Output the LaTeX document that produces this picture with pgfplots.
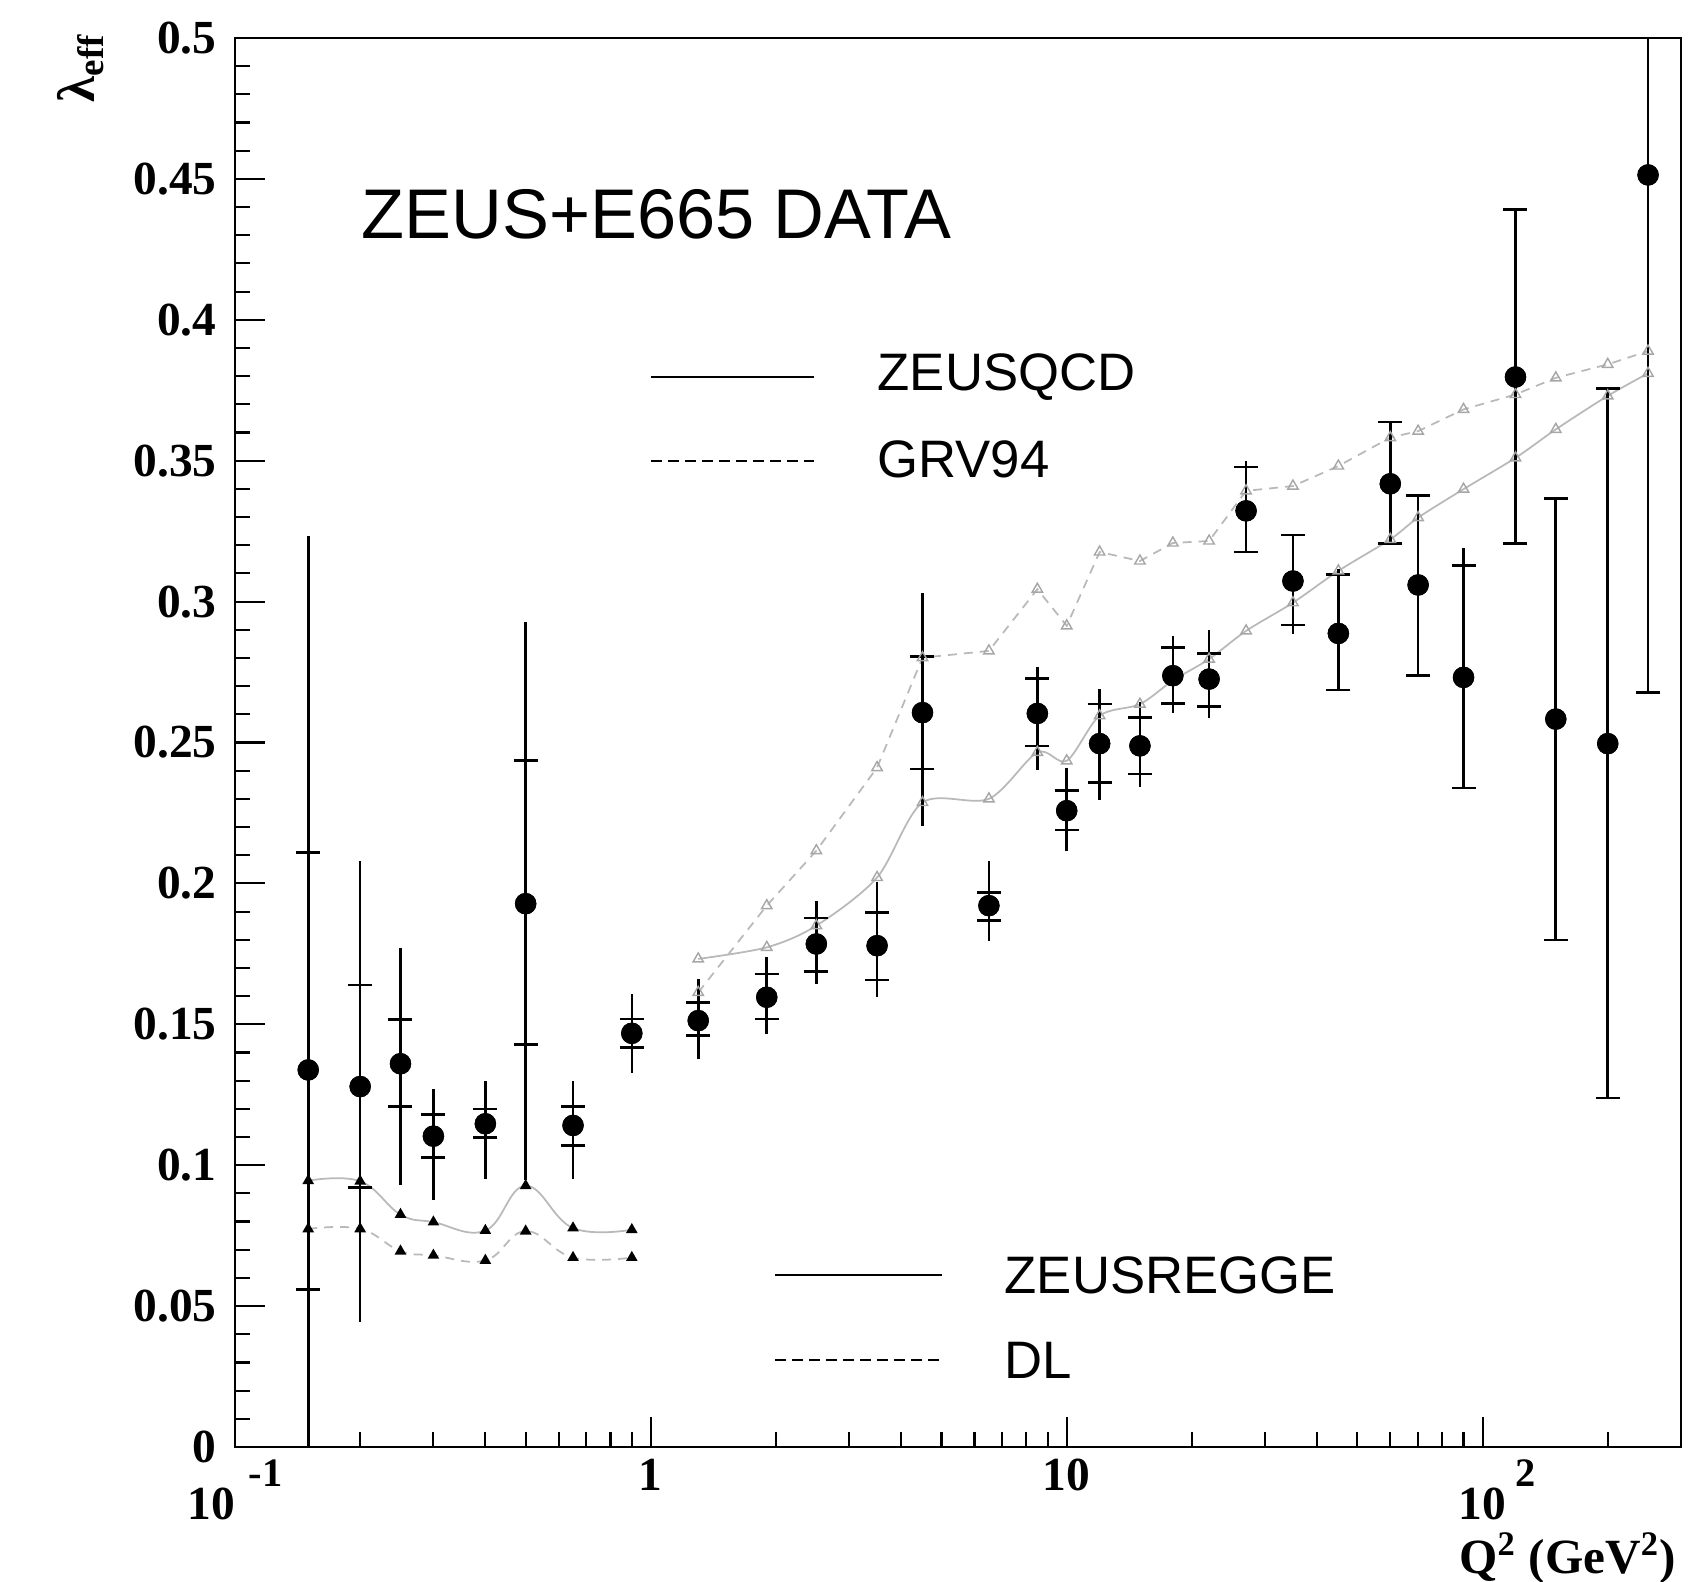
\documentclass[border=0pt]{standalone}
\usepackage{fontspec}
\setmainfont{Liberation Serif}
\newfontfamily\legfont{Liberation Sans}
\usepackage{pgfplots}
\pgfplotsset{compat=1.18}
\usepackage{pgfplotstable}

% x  y  total+  total-  stat+  stat-
\pgfplotstableread{
x y tp tm sp sm
0.15 0.1338 0.1895 0.1338 0.0771 0.0780
0.2 0.1279 0.0799 0.0836 0.0360 0.0359
0.25 0.1360 0.0410 0.0432 0.0157 0.0152
0.3 0.1103 0.0168 0.0228 0.0076 0.0075
0.4 0.1147 0.0153 0.0195 0.0052 0.0048
0.5 0.1928 0.1000 0.0982 0.0508 0.0499
0.65 0.1141 0.0159 0.0189 0.0067 0.0071
0.9 0.1468 0.0140 0.0142 0.0051 0.0050
1.3 0.1513 0.0148 0.0136 0.0065 0.0053
1.9 0.1596 0.0142 0.0130 0.0083 0.0077
2.5 0.1785 0.0154 0.0142 0.0092 0.0097
3.5 0.1779 0.0225 0.0183 0.0118 0.0122
4.5 0.2606 0.0426 0.0401 0.0199 0.0200
6.5 0.1921 0.0159 0.0124 0.0047 0.0053
8.5 0.2603 0.0165 0.0201 0.0124 0.0115
10 0.2258 0.0151 0.0142 0.0071 0.0069
12 0.2496 0.0193 0.0200 0.0140 0.0138
15 0.2488 0.0154 0.0145 0.0101 0.0100
18 0.2737 0.0141 0.0134 0.0100 0.0099
22 0.2725 0.0174 0.0138 0.0091 0.0098
27 0.3322 0.0177 0.0146 0.0156 0.0146
35 0.3073 0.0163 0.0189 0.0163 0.0156
45 0.2887 0.0228 0.0201 0.0210 0.0201
60 0.3418 0.0219 0.0211 0.0219 0.0211
70 0.3059 0.0318 0.0322 0.0318 0.0322
90 0.2731 0.0458 0.0393 0.0396 0.0393
120 0.3797 0.0594 0.0590 0.0594 0.0590
150 0.2583 0.0782 0.0784 0.0782 0.0784
200 0.2496 0.1261 0.1258 0.1261 0.1258
250 0.4514 0.1837 0.1837 0.1837 0.1837
}\datatab

\pgfplotstableread{
x y
0.15 0.0945
0.2 0.0943
0.25 0.0825
0.3 0.0798
0.4 0.0768
0.5 0.0927
0.65 0.0777
0.9 0.0771
}\reggetab

\pgfplotstableread{
x y
0.15 0.0774
0.2 0.0774
0.25 0.0695
0.3 0.0680
0.4 0.0662
0.5 0.0766
0.65 0.0672
0.9 0.0672
}\dltab

\pgfplotstableread{
x y
1.3 0.1732
1.9 0.1773
2.5 0.1850
3.5 0.2021
4.5 0.2287
6.5 0.2300
8.5 0.2465
10 0.2435
12 0.2595
15 0.2636
18 0.2720
22 0.2796
27 0.2896
35 0.2996
45 0.3109
60 0.3221
70 0.3298
90 0.3399
120 0.3510
150 0.3611
200 0.3730
250 0.3810
}\qcdtab

\pgfplotstableread{
x y
1.3 0.1613
1.9 0.1921
2.5 0.2116
3.5 0.2411
4.5 0.2801
6.5 0.2825
8.5 0.3044
10 0.2914
12 0.3176
15 0.3144
18 0.3208
22 0.3215
27 0.3393
35 0.3410
45 0.3481
60 0.3582
70 0.3605
90 0.3682
120 0.3735
150 0.3794
200 0.3842
250 0.3889
}\grvtab

\begin{document}
\begin{tikzpicture}
\begin{axis}[
  at={(0,0)}, anchor=south west,
  scale only axis, width=144.6mm, height=140.9mm,
  xmode=log, xmin=0.1, xmax=300, ymin=0, ymax=0.5,
  axis line style={line width=0.8pt},
  xtick={0.1,1,10,100},
  xticklabels={{10\hspace{0.3em}\raisebox{0.7em}{\fontsize{11.5}{12}\selectfont -1}},{1},{10},{10\rlap{\hspace{0.2em}\raisebox{0.7em}{\fontsize{11.5}{12}\selectfont 2}}}},
  minor xtick={0.2,0.3,0.4,0.5,0.6,0.7,0.8,0.9,2,3,4,5,6,7,8,9,20,30,40,50,60,70,80,90,200},
  ytick={0,0.05,0.1,0.15,0.2,0.25,0.3,0.35,0.4,0.45,0.5},
  yticklabels={0,0.05,0.1,0.15,0.2,0.25,0.3,0.35,0.4,0.45,0.5},
  minor y tick num=4,
  xtick pos=left, ytick pos=left,
  tick align=inside,
  major tick length=3mm, minor tick length=1.5mm,
  every tick/.append style={black, line width=0.6pt},
  every minor tick/.append style={black, line width=0.6pt},
  tick label style={font=\fontsize{13.5}{14}\selectfont\bfseries},
  yticklabel style={xshift=-0.6mm},
  clip=true,
]
% ZEUSREGGE (low Q2)
\addplot[gray!55, line width=0.5pt, smooth, tension=0.7,
  mark=triangle*, mark size=0.5mm, mark options={solid, draw=black, fill=black}]
  table {\reggetab};
% DL (low Q2)
\addplot[gray!55, line width=0.5pt, smooth, tension=0.7, dash pattern=on 0.9mm off 0.7mm,
  mark=triangle*, mark size=0.5mm, mark options={solid, draw=black, fill=black}]
  table {\dltab};
% ZEUSQCD
\addplot[gray!55, line width=0.5pt, smooth, tension=0.5,
  mark=triangle, mark size=0.6mm, mark options={solid, draw=gray!70, line width=0.4pt}]
  table {\qcdtab};
% GRV94
\addplot[gray!55, line width=0.5pt, dash pattern=on 0.9mm off 0.7mm,
  mark=triangle, mark size=0.6mm, mark options={solid, draw=gray!70, line width=0.4pt}]
  table {\grvtab};
% data: total errors
\addplot[black, only marks, mark=*, mark size=1.0mm,
  error bars/.cd, y dir=both, y explicit, error mark=none,
  error bar style={black, solid, line width=0.75pt}]
  table[x=x, y=y, y error plus=tp, y error minus=tm] {\datatab};
% data: statistical errors
\addplot[black, only marks, mark=*, mark size=1.0mm,
  error bars/.cd, y dir=both, y explicit,
  error mark options={rotate=90, mark size=1.2mm, line width=0.75pt, black},
  error bar style={black, solid, line width=0.75pt}]
  table[x=x, y=y, y error plus=sp, y error minus=sm] {\datatab};
\end{axis}

% annotations
\node[anchor=base west, inner sep=0, font=\legfont\fontsize{20}{20}\selectfont] at (12.6mm,120.8mm) {ZEUS+E665 DATA};
\draw[black, line width=0.8pt] (41.6mm,107.0mm) -- (57.9mm,107.0mm);
\draw[black, line width=0.8pt, dash pattern=on 1.1mm off 0.6mm] (41.6mm,98.6mm) -- (57.9mm,98.6mm);
\node[anchor=base west, inner sep=0, font=\legfont\fontsize{15}{15}\selectfont] at (64.2mm,105.6mm) {ZEUSQCD};
\node[anchor=base west, inner sep=0, font=\legfont\fontsize{15}{15}\selectfont] at (64.2mm,96.9mm) {GRV94};
\draw[black, line width=0.8pt] (54.0mm,17.2mm) -- (70.7mm,17.2mm);
\draw[black, line width=0.8pt, dash pattern=on 1.1mm off 0.6mm] (54.0mm,8.7mm) -- (70.7mm,8.7mm);
\node[anchor=base west, inner sep=0, font=\legfont\fontsize{15}{15}\selectfont] at (76.9mm,15.3mm) {ZEUSREGGE};
\node[anchor=base west, inner sep=0, font=\legfont\fontsize{15}{15}\selectfont] at (76.9mm,6.8mm) {DL};
% axis labels
\node[rotate=90, anchor=base west, inner sep=0, font=\fontsize{15}{15}\selectfont\bfseries] at (-14.0mm,134.4mm) {λ\textsubscript{eff}};
\node[anchor=base east, inner sep=0, font=\fontsize{14}{14}\selectfont\bfseries] at (144.2mm,-12.7mm) {Q\textsuperscript{2} (GeV\textsuperscript{2})};
\pgfresetboundingbox
\path[use as bounding box] (-23.5mm,-13.5mm) rectangle (146.7mm,144.7mm);
\end{tikzpicture}
\end{document}
